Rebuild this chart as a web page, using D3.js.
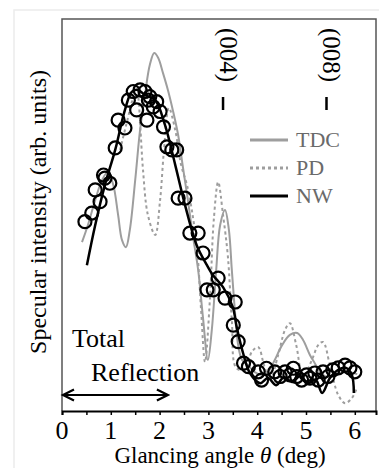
<!DOCTYPE html>
<html>
<head>
<meta charset="utf-8">
<script src="https://cdn.jsdelivr.net/npm/d3@7"></script>
<style>
  body { margin: 0; background: #fff; }
  svg { display: block; }
</style>
</head>
<body>
<svg id="chart" width="379" height="468" font-family="Liberation Serif, Times New Roman, serif"></svg>
<script>
// data: glancing angle (deg) / intensity (arb. units, 0-100)
var tdcTheta = [0.41,0.53,0.68,0.82,0.94,1.05,1.15,1.23,1.31,1.39,1.50,1.60,1.70,1.80,1.89,1.97,2.07,2.17,2.27,2.38,2.48,2.58,2.68,2.79,2.89,2.99,3.07,3.16,3.24,3.34,3.42,3.48,3.55,3.61,3.69,3.81,3.95,4.10,4.22,4.36,4.51,4.67,4.82,4.94,5.08,5.18,5.29,5.43,5.59,5.76,5.90,6.05];
var tdcVal   = [43.1,47.4,53.8,58.9,61.0,57.7,50.0,43.6,41.8,46.2,58.9,71.7,80.6,88.3,91.3,90.1,86.2,81.9,76.8,70.4,62.0,53.8,44.9,36.0,23.7,13.0,20.7,36.0,47.4,51.3,46.2,36.0,24.5,16.8,13.0,11.7,9.9,9.2,9.9,13.0,16.8,19.4,19.9,18.1,14.3,12.2,9.9,8.7,9.2,9.9,9.9,9.4];

var pdTheta = [1.19,1.35,1.45,1.54,1.60,1.66,1.76,1.91,2.01,2.09,2.19,2.32,2.44,2.56,2.66,2.77,2.85,2.93,3.03,3.11,3.20,3.30,3.40,3.48,3.57,3.75,3.89,4.02,4.14,4.26,4.43,4.57,4.67,4.80,4.94,5.12,5.25,5.35,5.49,5.66,5.80,5.94,6.05];
var pdVal   = [66.6,74.7,79.3,80.4,73.0,61.5,50.0,44.9,53.8,66.6,77.3,71.7,62.8,57.7,51.3,41.1,25.8,12.5,28.3,48.7,58.4,50.0,39.3,23.2,11.0,10.5,15.1,16.3,11.7,7.9,14.3,20.7,22.4,16.8,8.7,13.0,16.8,17.6,11.7,4.1,2.0,3.3,6.1];

var nwTheta = [0.51,0.68,0.88,1.09,1.29,1.43,1.56,1.70,1.91,2.11,2.32,2.52,2.76,2.97,3.09,3.30,3.50,3.58,3.71,3.85,4.06,4.22,4.39,4.55,4.71,4.88,5.04,5.20,5.33,5.49,5.66,5.82,5.94,5.98];
var nwVal   = [37.2,47.4,57.7,66.6,76.8,81.4,81.9,80.6,79.3,73.0,62.8,52.6,42.3,37.2,34.7,31.6,26.5,21.4,14.8,9.7,7.1,8.4,6.6,8.7,7.4,8.9,7.1,7.9,4.6,8.4,10.5,11.0,9.2,4.6];

// measured points (open circles)
var expTheta = [0.47,0.61,0.68,0.78,0.85,0.88,0.98,1.09,1.15,1.29,1.36,1.46,1.53,1.60,1.70,1.74,1.77,1.80,1.87,1.94,2.01,2.08,2.15,2.25,2.35,2.38,2.52,2.62,2.79,2.89,2.97,3.10,3.20,3.34,3.51,3.55,3.61,3.72,3.82,4.02,4.09,4.19,4.36,4.47,4.57,4.67,4.74,4.81,4.91,5.01,5.08,5.18,5.25,5.35,5.45,5.55,5.66,5.80,5.90,6.00];
var expVal   = [48.3,50.5,56.4,53.4,60.2,59.4,58.1,67.1,74.2,72.2,79.3,81.5,76.8,81.9,81.5,74.2,79.3,80.2,77.6,78.9,76.4,72.5,67.4,66.6,66.6,54.3,54.3,45.4,45.4,40.3,30.9,30.9,33.9,28.8,21.9,27.8,17.7,12.2,11.3,10.0,7.9,10.9,10.0,8.8,10.0,9.2,10.9,8.8,7.9,9.2,8.4,9.7,7.9,10.0,8.8,10.5,11.0,11.7,11.0,10.0];

var xTicks = [0,0.5,1,1.5,2,2.5,3,3.5,4,4.5,5,5.5,6];
var xLabels = [0,1,2,3,4,5,6];
var peakNames = ["(004)","(008)"];
var peakTheta = [3.30,5.42];
var legendNames = ["TDC","PD","NW"];

var FONT = "Liberation Serif, Times New Roman, serif";
var svg = d3.select("#chart");
var mLeft = 62, mRight = 376, mTop = 19, mBottom = 411;

var x = d3.scaleLinear().domain([0, 314/48.8]).range([mLeft, mRight]);
var y = d3.scaleLinear().domain([0, 100]).range([mBottom, mTop]);

// faint outer border of the figure
svg.append("rect").attr("x",14).attr("y",10).attr("width",380).attr("height",470)
  .attr("fill","none").attr("stroke","#ececec").attr("stroke-width",1.5);

// frame
svg.append("path")
  .attr("d","M"+mLeft+","+mBottom+"V"+mTop+"H"+mRight+"V"+mBottom)
  .attr("fill","none").attr("stroke","#555").attr("stroke-width",1.5);

function zip(a,b){ return a.map(function(d,i){ return [d,b[i]]; }); }

var line = d3.line()
  .x(function(d){ return x(d[0]); })
  .y(function(d){ return y(d[1]); })
  .curve(d3.curveCatmullRom.alpha(0.5));

// simulations
svg.append("path").datum(zip(tdcTheta,tdcVal)).attr("d",line)
  .attr("fill","none").attr("stroke","#9e9e9e").attr("stroke-width",2);
svg.append("path").datum(zip(pdTheta,pdVal)).attr("d",line)
  .attr("fill","none").attr("stroke","#9e9e9e").attr("stroke-width",2)
  .attr("stroke-dasharray","3,3");

// data circles
svg.append("g").selectAll("circle")
  .data(zip(expTheta,expVal))
  .enter().append("circle")
    .attr("cx",function(d){ return x(d[0]); })
    .attr("cy",function(d){ return y(d[1]); })
    .attr("r",6.5)
    .attr("fill","none").attr("stroke","#000").attr("stroke-width",2.2);

svg.append("path").datum(zip(nwTheta,nwVal)).attr("d",line)
  .attr("fill","none").attr("stroke","#000").attr("stroke-width",2.5);

// x axis: minor ticks every 0.5, labels on integers
var ax = svg.append("g").attr("transform","translate(0,"+mBottom+")")
  .call(d3.axisBottom(x).tickValues(xTicks).tickSize(4).tickFormat(""));
ax.select(".domain").attr("stroke","#000").attr("stroke-width",2);
ax.selectAll(".tick line").attr("stroke","#000").attr("stroke-width",1.5);
ax.selectAll(".tick text").remove();

svg.append("g").selectAll("text")
  .data(xLabels)
  .enter().append("text")
    .attr("x",function(d){ return x(d); })
    .attr("y",439)
    .attr("font-family",FONT)
    .attr("text-anchor","middle").attr("font-size","26px").attr("fill","#000")
    .text(function(d){ return d; });

var xl = svg.append("text").attr("x",(mLeft+mRight)/2 + 1).attr("y",463)
  .attr("font-family",FONT)
  .attr("text-anchor","middle").attr("font-size","23px").attr("fill","#000");
xl.append("tspan").text("Glancing angle ");
xl.append("tspan").attr("font-style","italic").text("θ");
xl.append("tspan").text(" (deg)");

svg.append("text")
  .attr("transform","translate(46,212) rotate(-90)")
  .attr("font-family",FONT)
  .attr("text-anchor","middle").attr("font-size","24px").attr("fill","#000")
  .text("Specular intensity (arb. units)");

// Bragg peak marks
peakNames.forEach(function(n,i){
  var px = x(peakTheta[i]);
  svg.append("text")
    .attr("transform","translate("+(px-3)+",55) rotate(90)")
    .attr("font-family",FONT)
    .attr("text-anchor","middle").attr("font-size","25px").attr("fill","#000")
    .text(n);
  svg.append("line").attr("x1",px).attr("x2",px).attr("y1",97).attr("y2",110)
    .attr("stroke","#000").attr("stroke-width",2.5);
});

// legend
var legY = [140,168,196];
legendNames.forEach(function(n,i){
  var l = svg.append("line").attr("x1",250).attr("x2",288).attr("y1",legY[i]).attr("y2",legY[i])
    .attr("stroke", i==2 ? "#000" : "#9e9e9e").attr("stroke-width",3);
  if (i==1) l.attr("stroke-dasharray","3,3");
  svg.append("text").attr("x",296).attr("y",legY[i]+7).attr("font-size","22px")
    .attr("font-family",FONT)
    .attr("fill","#6a6a6a").text(n);
});

// total reflection region
svg.append("text").attr("x",72).attr("y",347).attr("font-size","26px")
  .attr("font-family",FONT).attr("fill","#000").text("Total");
svg.append("text").attr("x",91).attr("y",381).attr("font-size","26px")
  .attr("font-family",FONT).attr("fill","#000").text("Reflection");
var ay = 395, ax0 = x(0) + 1, ax1 = x(2.17);
svg.append("path")
  .attr("d","M"+ax0+","+ay+"H"+ax1
    +"M"+(ax0+11)+","+(ay-5.5)+"L"+ax0+","+ay+"L"+(ax0+11)+","+(ay+5.5)
    +"M"+(ax1-11)+","+(ay-5.5)+"L"+ax1+","+ay+"L"+(ax1-11)+","+(ay+5.5))
  .attr("fill","none").attr("stroke","#000").attr("stroke-width",2.2);
</script>
</body>
</html>
